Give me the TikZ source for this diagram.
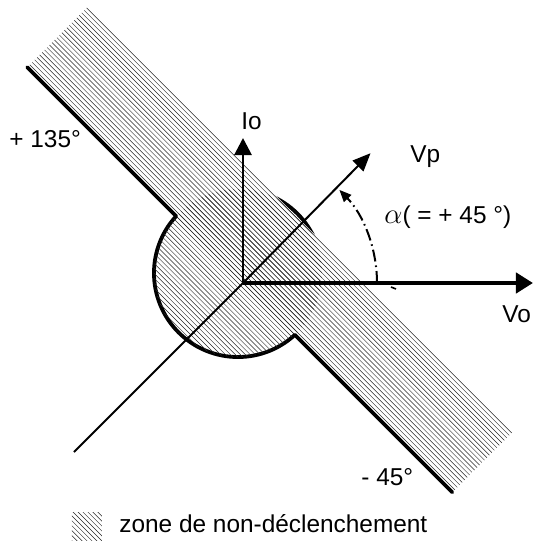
\documentclass[tikz,border=0pt]{standalone}
\usepackage{fontspec}
\setmainfont{Liberation Sans}
\usetikzlibrary{arrows.meta}
\tikzset{
  label_text/.style = {inner sep=0pt, anchor=base west,
    font=\fontsize{12.2}{14}\selectfont},% etiquettes
  vo_axis/.style = {line width=2.2pt, -{Triangle[length=8.5pt,width=10pt]}},% axe Vo
  io_axis/.style = {line width=1.4pt, -{Triangle[length=8.5pt,width=8.5pt]}},% axe Io
  vp_axis/.style = {line width=1pt, -{Triangle[length=9pt,width=7.5pt]}},% axe Vp
  vp_line/.style = {line width=1pt},% prolongement de Vp
  band_edge/.style = {line width=1.9pt, line cap=round},% bord de la zone
  hatch_line/.style = {line width=0.22pt, black!85},% hachures
  alpha_arc/.style = {line width=1pt, dash pattern=on 6pt off 2pt on 0.8pt off 2pt,
    -{Triangle[length=6pt,width=5pt]}}% angle alpha
}
\begin{document}
\begin{tikzpicture}[x=0.5pt, y=0.5pt]
  \useasboundingbox (-243,-259) rectangle (291,283);
  % zone de non-declenchement
  \begin{scope}[rotate=-45]
    \coordinate (disk_c) at (-10.6,3.5);
    \draw[band_edge] (disk_c) circle[radius=84];
    \fill[white] (-305,0) rectangle (296,85);
    \begin{scope}
      \clip (disk_c) circle[radius=84];
      \foreach \k in {-24,...,25}
        \draw[hatch_line] (-320,3.5*\k) -- (320,3.5*\k);
    \end{scope}
    \begin{scope}
      \clip (-305,0) rectangle (296,85);
      \foreach \k in {0,...,25}
        \draw[hatch_line] (-320,3.5*\k) -- (320,3.5*\k);
    \end{scope}
    \coordinate (edge_a) at (-305,0);
    \coordinate (edge_b) at (-94.5,0);
    \coordinate (edge_c) at (73.3,0);
    \coordinate (edge_d) at (296,0);
    \draw[band_edge] (edge_a) -- (edge_b);
    \draw[band_edge] (edge_c) -- (edge_d);
  \end{scope}
  % axes
  \coordinate (O) at (0,0);
  \coordinate (vo_end) at (290,0);
  \coordinate (io_end) at (0,145);
  \coordinate (vp_end) at (45.5:182);
  \coordinate (vp_tail) at (225:239);
  \draw[vp_line] (vp_tail) -- (O);
  \draw[vp_axis] (O) -- (vp_end);
  \draw[io_axis] (O) -- (io_end);
  \draw[vo_axis] (O) -- (vo_end);
  \coordinate (alpha_start) at (0:134);
  \draw[alpha_arc] (alpha_start) arc[start angle=0, end angle=44, radius=134];
  \coordinate (tick_a) at (148,-4);
  \coordinate (tick_b) at (153,-6);
  \draw[line width=0.8pt] (tick_a) -- (tick_b);
  % etiquettes
  \node[label_text] (io_label) at (-2,154) {Io};
  \node[label_text] (vp_label) at (167,120) {Vp};
  \node[label_text] (alpha_label) at (141,60)
    {{\fontsize{15}{15}\selectfont$\alpha$}( = + 45 °)};
  \node[label_text] (vo_label) at (259,-39) {Vo};
  \node[label_text] (pos_label) at (-234,135) {+ 135°};
  \node[label_text] (neg_label) at (118,-202) {- 45°};
  % legende
  \begin{scope}
    \clip (-171,-257) rectangle (-141,-229);
    \foreach \k in {-10,...,10}
      \draw[hatch_line, shift={(-156,-243)}, rotate=-45] (-30,3.5*\k) -- (30,3.5*\k);
  \end{scope}
  \node[label_text] (legend_text) at (-124,-249) {zone de non-déclenchement};
\end{tikzpicture}
\end{document}
